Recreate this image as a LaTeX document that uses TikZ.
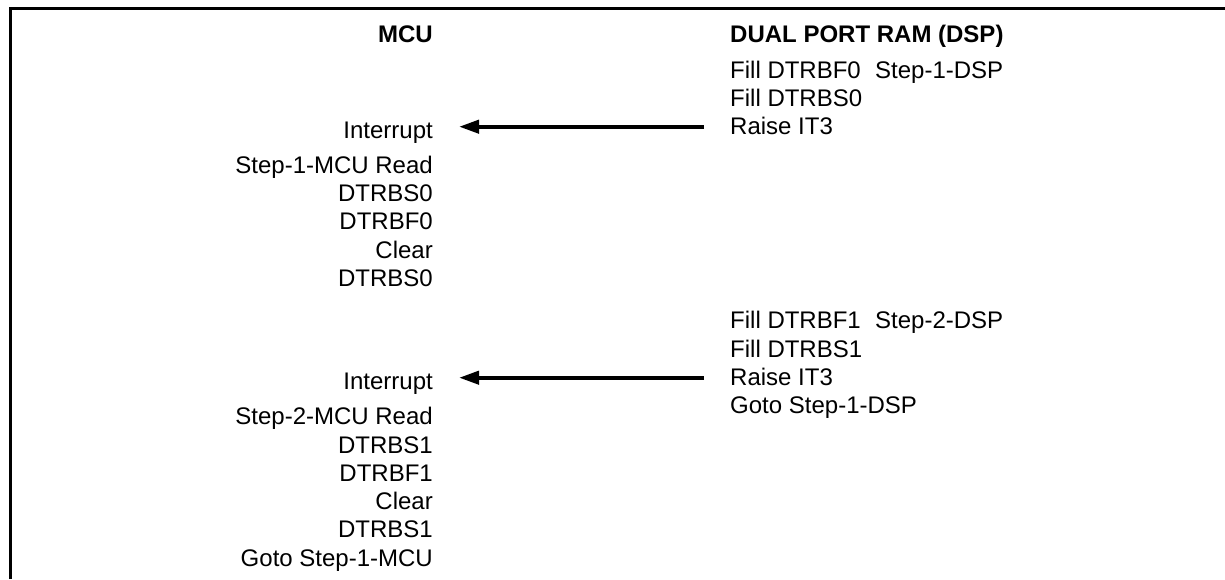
\documentclass[tikz,border=0pt]{standalone}
\usepackage{fontspec}
\setmainfont{Liberation Sans}
\usetikzlibrary{arrows.meta,calc}
\tikzset{
  txt/.style={inner sep=0pt, font=\fontsize{24}{28.3}\selectfont},
  lft/.style={txt, anchor=base east},
  rgt/.style={txt, anchor=base west},
  hdr/.style={font=\fontsize{24}{28.3}\selectfont\bfseries},
  arr/.style={line width=4pt, -{Triangle[length=20pt,width=13pt]}},
  frame/.style={line width=2.5pt}
}
\begin{document}
\begin{tikzpicture}[x=1pt,y=-1pt]
\useasboundingbox (0,0) rectangle (1225,579);
\draw[frame] (10.3,579) -- (10.3,8.7) -- (1225,8.7);
% headers
\node[lft,hdr] (hmcu) at (433,42.7) {MCU};
\node[rgt,hdr] (hdsp) at (730,42.7) {DUAL PORT RAM (DSP)};
% block 1 DSP
\node[rgt] (r1a) at (730,78.3) {Fill DTRBF0};
\node[rgt] (s1) at (875,78.3) {Step-1-DSP};
\node[rgt] (r1b) at (730,106.6) {Fill DTRBS0};
\node[rgt] (r1c) at (730,134.9) {Raise IT3};
% block 1 MCU
\node[lft] (i1) at (433,138) {Interrupt};
\node[lft] (m1a) at (433,173.3) {Step-1-MCU Read};
\node[lft] (m1b) at (433,201.6) {DTRBS0};
\node[lft] (m1c) at (433,229.9) {DTRBF0};
\node[lft] (m1d) at (433,258.2) {Clear};
\node[lft] (m1e) at (433,286.5) {DTRBS0};
% block 2 DSP
\node[rgt] (r2a) at (730,328.7) {Fill DTRBF1};
\node[rgt] (s2) at (875,328.7) {Step-2-DSP};
\node[rgt] (r2b) at (730,357) {Fill DTRBS1};
\node[rgt] (r2c) at (730,385.3) {Raise IT3};
\node[rgt] (r2d) at (730,413.6) {Goto Step-1-DSP};
% block 2 MCU
\node[lft] (i2) at (433,389) {Interrupt};
\node[lft] (m2a) at (433,424.7) {Step-2-MCU Read};
\node[lft] (m2b) at (433,453) {DTRBS1};
\node[lft] (m2c) at (433,481.3) {DTRBF1};
\node[lft] (m2d) at (433,509.6) {Clear};
\node[lft] (m2e) at (433,537.9) {DTRBS1};
\node[lft] (m2f) at (433,566.2) {Goto Step-1-MCU};
% arrows
\coordinate (t1) at ($(r1c.base west)+(-26,-8.2)$);
\coordinate (p1) at ($(i1.base east)+(26,-11.3)$);
\draw[arr] (t1) -- (p1);
\coordinate (t2) at ($(r2c.base west)+(-26,-7.6)$);
\coordinate (p2) at ($(i2.base east)+(26,-11.3)$);
\draw[arr] (t2) -- (p2);
\end{tikzpicture}
\end{document}
